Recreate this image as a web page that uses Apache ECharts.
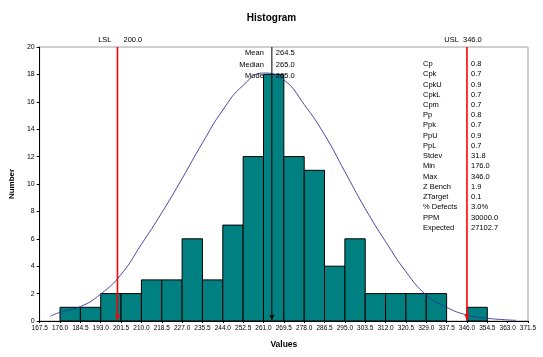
<!DOCTYPE html>
<html>
<head>
<meta charset="utf-8">
<script src="https://cdn.jsdelivr.net/npm/echarts@6/dist/echarts.min.js"></script>
<style>
html,body{margin:0;padding:0;background:#fff;}
#c{width:543px;height:357px;}
</style>
</head>
<body>
<div id="c"></div>
<script>
// ---- data ----
const binEdges = [167.5,176.0,184.5,193.0,201.5,210.0,218.5,227.0,235.5,244.0,252.5,261.0,269.5,278.0,286.5,295.0,303.5,312.0,320.5,329.0,337.5,346.0,354.5,363.0,371.5];
const counts = [0,1,1,2,2,3,3,6,3,7,12,18,12,11,4,6,2,2,2,2,0,1,0,0];
const curveX = [172,176,184.5,193,201.5,210,218.5,227,235.5,244,252.5,261,269.5,278,286.5,295,303.5,312,320.5,329,337.5,346,354.5,363,366.5];
const curveY = [0.36,0.63,1.05,1.97,3.4,5.6,7.9,10.4,13.0,15.4,17.2,18.1,17.6,15.8,13.6,10.9,8.2,5.8,3.6,1.9,1.0,0.44,0.2,0.08,0.05];
const LSL = 200.0, USL = 346.0;
const centerNames = ['Mean','Median','Mode'];
const centerValues = ['264.5','265.0','265.0'];
const meanValue = 264.5;
const statNames = ['Cp','Cpk','CpkU','CpkL','Cpm','Pp','Ppk','PpU','PpL','Stdev','Min','Max','Z Bench','ZTarget','% Defects','PPM','Expected'];
const statValues = ['0.8','0.7','0.9','0.7','0.7','0.8','0.7','0.9','0.7','31.8','176.0','346.0','1.9','0.1','3.0%','30000.0','27102.7'];

const FONT = 'Liberation Sans, Arial, sans-serif';
const barData = counts.map((c,i)=>[binEdges[i], binEdges[i+1], c]);
const curveData = curveX.map((x,i)=>[x, curveY[i]]);
const vlineData = [[LSL,'#ff0000',1.6],[USL,'#ff0000',1.6],[meanValue,'#000000',1]];

const chart = echarts.init(document.getElementById('c'), null, {renderer:'canvas'});
const option = {
  backgroundColor:'#ffffff',
  animation:false,
  textStyle:{fontFamily:FONT},
  title:{text:'Histogram', left:'center', top:8, textStyle:{fontFamily:FONT,fontSize:10,fontWeight:'bold',color:'#000'}},
  grid:{left:37, right:15, top:47, bottom:36, show:true, borderColor:'#a0a0a0', borderWidth:1, containLabel:false},
  xAxis:{type:'value', min:binEdges[0], max:binEdges[binEdges.length-1], interval:8.5,
    name:'Values', nameLocation:'middle', nameGap:19,
    nameTextStyle:{fontFamily:FONT,fontSize:8.5,fontWeight:'bold',color:'#000'},
    axisLine:{lineStyle:{color:'#000',width:1}}, axisTick:{show:true,length:2,lineStyle:{color:'#000'}},
    splitLine:{show:false},
    axisLabel:{fontSize:6.5,color:'#000',margin:4,showMinLabel:true,showMaxLabel:true,formatter:v=>v.toFixed(1)}},
  yAxis:{type:'value', min:0, max:20, interval:2,
    name:'Number', nameLocation:'middle', nameGap:18,
    nameTextStyle:{fontFamily:FONT,fontSize:8,fontWeight:'bold',color:'#000'},
    axisLine:{show:true,lineStyle:{color:'#000',width:1}}, axisTick:{show:true,length:3,lineStyle:{color:'#000'}},
    splitLine:{show:false},
    axisLabel:{fontSize:7,color:'#000',margin:5}},
  series:[
    {type:'custom', data:barData, z:2,
     renderItem:(params, api)=>{
       const p0 = api.coord([api.value(0), 0]);
       const p1 = api.coord([api.value(1), api.value(2)]);
       if (api.value(2) <= 0) return null;
       return {type:'rect', shape:{x:p0[0], y:p1[1], width:p1[0]-p0[0], height:p0[1]-p1[1]},
         style:{fill:'#008080', stroke:'#000', lineWidth:1}};
     },
     encode:{x:[0,1], y:2}},
    {type:'line', data:curveData, smooth:0.5, showSymbol:false, z:3,
     lineStyle:{color:'#333399', width:0.9}},
    {type:'custom', data:vlineData.map(d=>[d[0]]), z:5, silent:true,
     renderItem:(params, api)=>{
       const col = vlineData[params.dataIndex][1];
       const w = vlineData[params.dataIndex][2];
       const pt = api.coord([api.value(0), 20]);
       const pb = api.coord([api.value(0), 0]);
       const x = pt[0];
       return {type:'group', children:[
         {type:'line', shape:{x1:x, y1:pt[1], x2:x, y2:pb[1]-1}, style:{stroke:col, lineWidth:w}},
         {type:'polygon', shape:{points:[[x-2.5,pb[1]-6],[x+2.5,pb[1]-6],[x,pb[1]-1]]}, style:{fill:col}}
       ]};
     },
     encode:{x:0}}
  ]
};
chart.setOption(option);

const px = (x,y)=>chart.convertToPixel({gridIndex:0},[x,y]);
const g = [];
const txt = (x,y,t,align,size)=>({type:'text', x:x, y:y, z:10,
  style:{text:t, fill:'#000', font:(size||7)+'px '+FONT, textAlign:align||'left', textVerticalAlign:'middle'}});
const plotTop = px(LSL,20)[1];
const lslX = px(LSL,20)[0], uslX = px(USL,20)[0], meanX = px(meanValue,20)[0];
g.push(txt(lslX-6, plotTop-7, 'LSL', 'right', 7.5));
g.push(txt(lslX+6, plotTop-7, LSL.toFixed(1), 'left', 7.5));
g.push(txt(uslX-8, plotTop-7, 'USL', 'right', 7.5));
g.push(txt(uslX-4, plotTop-7, USL.toFixed(1), 'left', 7.5));
centerNames.forEach((n,i)=>{
  g.push(txt(meanX-8, plotTop+6+i*11.7, n, 'right', 7.5));
  g.push(txt(meanX+4, plotTop+6+i*11.7, centerValues[i], 'left', 7.5));
});
statNames.forEach((n,i)=>{
  g.push(txt(uslX-44, plotTop+17+i*10.23, n, 'left', 7.5));
  g.push(txt(uslX+4, plotTop+17+i*10.23, statValues[i], 'left', 7.5));
});
chart.setOption({graphic:g});
</script>
</body>
</html>
